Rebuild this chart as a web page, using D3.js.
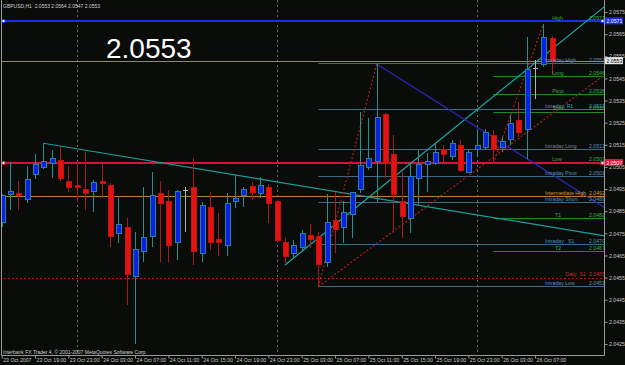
<!DOCTYPE html>
<html><head><meta charset="utf-8">
<script src="https://cdn.jsdelivr.net/npm/d3@7"></script>
<style>
html,body{margin:0;padding:0;background:#0a0c0a;}
svg{display:block;font-family:"Liberation Sans",Arial,sans-serif;}
text{white-space:pre;}
</style></head><body>
<svg id="chart" width="625" height="365"></svg>
<script>
// ---------- DATA ----------
const titleText = "GBPUSD,H1  2.0553 2.0564 2.0547 2.0553";
const bigPriceText = "2.0553";
const copyrightText = "Interbank FX Trader 4, \u00A9 2001-2007 MetaQuotes Software Corp.";

// hourly bars from 23 Oct 15:00 (index 0) to 26 Oct 09:00 (index 66)
const open  = [2.04798,2.04926,2.04928,2.04905,2.05017,2.05048,2.05066,2.05077,2.04986,2.04968,
               2.04946,2.04937,2.04986,2.04968,2.04750,2.04777,2.04557,2.04670,2.04735,2.04928,
               2.04896,2.04708,2.04946,2.04958,2.04657,2.04868,2.04720,2.04697,2.04896,2.04920,
               2.04961,2.04928,2.04958,2.04896,2.04710,2.04657,2.04687,2.04738,2.04735,2.04617,
               2.04807,2.04777,2.04837,2.04946,2.05048,2.05074,2.05285,2.05107,2.04893,2.04818,
               2.04999,2.05059,2.05066,2.05127,2.05096,2.05146,2.05026,2.05130,2.05137,2.05194,
               2.05137,2.05172,2.05258,2.05217,2.05496,2.05511,2.0563];
const high  = [2.04928,2.05074,2.04986,2.05054,2.05107,2.05157,2.05127,2.05141,2.05056,2.05066,
               2.05116,2.04991,2.05066,2.04976,2.04919,2.04818,2.04757,2.04961,2.05028,2.04986,
               2.04946,2.04946,2.04961,2.05089,2.04893,2.04938,2.04841,2.04931,2.05014,2.04961,
               2.04982,2.05006,2.04973,2.04901,2.04735,2.04720,2.04765,2.04791,2.04757,2.04928,
               2.04938,2.04896,2.04938,2.05300,2.05272,2.05515,2.05292,2.05194,2.05028,2.05074,
               2.05127,2.05114,2.05152,2.05149,2.05172,2.05172,2.05127,2.05221,2.05220,2.05217,
               2.05187,2.05285,2.05345,2.05636,2.05533,2.05696,2.0564];
const low   = [2.04779,2.04855,2.04855,2.04888,2.04994,2.05040,2.04999,2.04988,2.04938,2.04893,
               2.04855,2.04848,2.04908,2.04687,2.04708,2.04426,2.04250,2.04620,2.04687,2.04620,
               2.04620,2.04630,2.04757,2.04607,2.04620,2.04675,2.04648,2.04648,2.04866,2.04868,
               2.04901,2.04908,2.04795,2.04711,2.04615,2.04644,2.04675,2.04682,2.04509,2.04599,
               2.04660,2.04708,2.04728,2.04931,2.05036,2.04893,2.04999,2.04750,2.04728,2.04750,
               2.04878,2.04938,2.05059,2.05066,2.05081,2.05028,2.05021,2.05096,2.05127,2.05066,
               2.05119,2.05149,2.05187,2.05085,2.05357,2.05503,2.0547];
const close = [2.04919,2.04937,2.04919,2.04991,2.05059,2.05075,2.05089,2.04999,2.04958,2.04958,
               2.04928,2.04979,2.04976,2.04735,2.04788,2.04566,2.04679,2.04730,2.04919,2.04886,
               2.04694,2.04938,2.04946,2.04667,2.04878,2.04708,2.04708,2.04886,2.04908,2.04946,
               2.04935,2.04968,2.04886,2.04717,2.04644,2.04694,2.04750,2.04724,2.04607,2.04798,
               2.04768,2.04845,2.04935,2.05056,2.05089,2.05274,2.05066,2.04926,2.04828,2.05006,
               2.05062,2.05074,2.05114,2.05107,2.05154,2.05036,2.05114,2.05146,2.05206,2.05130,
               2.05167,2.05247,2.05205,2.05488,2.05496,2.05636,2.0553];

const timeTickBars   = [0,4,8,12,16,20,24,28,32,36,40,44,48,52,56,60,64];
const timeTickLabels = ["23 Oct 2007","23 Oct 19:00","23 Oct 23:00","24 Oct 03:00","24 Oct 07:00",
                        "24 Oct 11:00","24 Oct 15:00","24 Oct 19:00","24 Oct 23:00","25 Oct 03:00",
                        "25 Oct 07:00","25 Oct 11:00","25 Oct 15:00","25 Oct 19:00","25 Oct 23:00",
                        "26 Oct 03:00","26 Oct 07:00"];
const daySeparatorBars = [9,33,57];
const priceTicks = [2.0575,2.0565,2.0555,2.0545,2.0535,2.0525,2.0515,2.0505,2.0495,2.0485,
                    2.0475,2.0465,2.0455,2.0445,2.0435,2.0425];

// pivot levels
const intradayNames  = ["Intraday High","Intraday  R1","Intraday Long","Intraday Pivot","Intraday Short","Intraday   S1","Intraday Low"];
const intradayValues = [2.0552,2.0531,2.0513,2.0501,2.0489,2.0470,2.0451];
const intradayFromBar = 38;
const dailyNames  = ["     High","     Long","     Pivot","     Short","     Low","       T1","       T2"];
const dailyValues = [2.0571,2.0546,2.0538,2.0530,2.0507,2.0482,2.0467];
const dailyFromBar = 59;
const wideNames  = ["Intermediate High","              Daily  S1"];
const wideValues = [2.0492,2.0455];

// user horizontal lines with price boxes
const hLineValues = [2.0571,2.0553,2.0507];

// trend lines: [bar, price] anchors
const downTrend = [[5,2.05157],[28,2.05014]];
const upTrend   = [[34,2.04607],[63,2.05490]];
const channelLo = [[38,2.04509],[59,2.05094]];
const zigUp     = [[38,2.04509],[45,2.05515]];
const zigDown   = [[45,2.05515],[59,2.05183]];
const zigUp2    = [[59,2.05066],[65,2.05696]];

// ---------- CHART ----------
const svg = d3.select("#chart");
const PR = 604.5, PB = 355.5;
const FONT = "Liberation Sans, Arial, sans-serif";
const NARROW = "Liberation Sans Narrow, Arial Narrow, Liberation Sans, sans-serif";
svg.append("rect").attr("width",625).attr("height",365).attr("fill","#0a0c0a");

const x = d3.scaleLinear().domain([0,72]).range([1.7,601.7]);
const y = d3.scaleLinear().domain([2.0425,2.0575]).range([344,12]);

svg.append("defs").append("clipPath").attr("id","plot")
  .append("rect").attr("x",1.5).attr("y",0).attr("width",PR-1.5).attr("height",PB);

const plot = svg.append("g").attr("clip-path","url(#plot)");

// day separators
plot.selectAll(".sep").data(daySeparatorBars).join("line")
  .attr("x1",d=>Math.round(x(d))+0.5).attr("x2",d=>Math.round(x(d))+0.5)
  .attr("y1",0).attr("y2",PB)
  .attr("stroke","#6e6e6e").attr("stroke-dasharray","2,3").attr("stroke-width",1);

// level lines
function levelLine(v, fromBar, color, width, dash){
  const yy = Math.round(y(v)) + (width%2?0.5:0);
  plot.append("line").attr("x1",fromBar==null?0:x(fromBar)).attr("x2",PR)
    .attr("y1",yy).attr("y2",yy).attr("stroke",color).attr("stroke-width",width)
    .attr("stroke-dasharray",dash||null);
}
function levelLabel(name, v, color){
  const yy = y(v) - 1.2;
  svg.append("text").attr("x",545).attr("y",yy).attr("fill",color)
    .attr("font-size",5.2).text(name);
  svg.append("text").attr("x",589).attr("y",yy).attr("fill",color)
    .attr("font-size",5.2).text(d3.format(".4f")(v));
}
const cIntra="#3d6a88", cIntraT="#5b8fbf", cDaily="#1f8a22", cDailyT="#3bb03b";
intradayValues.forEach(v=>levelLine(v,intradayFromBar,cIntra,1));
dailyValues.forEach(v=>levelLine(v,dailyFromBar,cDaily,1));
levelLine(wideValues[0],null,"#b8822c",1);
levelLine(wideValues[1],null,"#b01818",1,"2,2");

// horizontal user lines
levelLine(hLineValues[1],null,"#8d8a62",1);
levelLine(hLineValues[2],null,"#d0143c",2);
levelLine(hLineValues[0],null,"#1a2cf0",2);

// trend lines (rays extend to right edge)
function ray(pts, color, dash, extend){
  const [a,b] = pts;
  const x1=x(a[0]), y1=y(a[1]), x2=x(b[0]), y2=y(b[1]);
  let xe=x2, ye=y2;
  if(extend){ xe=PR; ye=y1+(y2-y1)*(PR-x1)/(x2-x1); }
  plot.append("line").attr("x1",x1).attr("y1",y1).attr("x2",xe).attr("y2",ye)
    .attr("stroke",color).attr("stroke-width",1.2).attr("stroke-dasharray",dash||null);
}
ray(downTrend,"#1e9c9c",null,true);
ray(upTrend,"#1eaaaa",null,true);
ray(zigDown,"#2a2ab8",null,true);
ray(channelLo,"#b41c1c","2,2",true);
ray(zigUp,"#b41c1c","2,2",false);
ray(zigUp2,"#b41c1c","2,2",false);

// candles
const bars = open.map((o,i)=>({i,o,h:high[i],l:low[i],c:close[i]}));
const cg = plot.append("g").attr("shape-rendering","crispEdges");
bars.forEach(b=>{
  const cx = Math.round(x(b.i));
  const up = b.c > b.o, doji = b.c === b.o;
  const wick = doji ? "#b4b4b4" : (up ? "#2b8e8e" : "#a81c1c");
  cg.append("line").attr("x1",cx+0.5).attr("x2",cx+0.5)
    .attr("y1",y(b.h)).attr("y2",y(b.l)).attr("stroke",wick);
  const top = y(Math.max(b.o,b.c)), bot = y(Math.min(b.o,b.c));
  if(doji){
    cg.append("line").attr("x1",cx-2).attr("x2",cx+3).attr("y1",Math.round(top)+0.5).attr("y2",Math.round(top)+0.5)
      .attr("stroke","#b4b4b4");
  } else {
    cg.append("rect").attr("x",cx-2).attr("y",top).attr("width",5).attr("height",Math.max(1,bot-top))
      .attr("fill",up?"#0a22e6":"#e6120f").attr("stroke",up?"#2a7f9a":"#c01410").attr("stroke-width",1);
  }
});

// labels of levels
intradayNames.forEach((n,i)=>levelLabel(n,intradayValues[i],cIntraT));
dailyNames.forEach((n,i)=>levelLabel(n,dailyValues[i],cDailyT));
levelLabel(wideNames[0],wideValues[0],"#d49a38");
levelLabel(wideNames[1],wideValues[1],"#d42424");

// selection handles on user lines
[[hLineValues[0],"#1a2cf0"],[hLineValues[2],"#d0143c"]].forEach(([v,c])=>{
  [2,601].forEach(hx=>{
    svg.append("rect").attr("x",hx).attr("y",Math.round(y(v))-1.5).attr("width",3).attr("height",3)
      .attr("fill","#ffffff").attr("stroke",c).attr("stroke-width",1);
  });
});

// frame
svg.append("line").attr("x1",1.5).attr("x2",1.5).attr("y1",0).attr("y2",PB).attr("stroke","#9a9a9a");
svg.append("line").attr("x1",PR).attr("x2",PR).attr("y1",0).attr("y2",PB).attr("stroke","#9a9a9a");
svg.append("line").attr("x1",1.5).attr("x2",PR).attr("y1",PB).attr("y2",PB).attr("stroke","#9a9a9a");

// price axis
const yAxis = svg.append("g").attr("transform",`translate(${PR},0)`)
  .call(d3.axisRight(y).tickValues(priceTicks).tickFormat(d3.format(".4f")).tickSize(3).tickPadding(1.5));
yAxis.select(".domain").remove();
yAxis.selectAll("line").attr("stroke","#9a9a9a");
yAxis.selectAll("text").attr("fill","#c8c8c8").attr("font-size",5.2).attr("font-family",FONT);

// time axis
const xAxis = svg.append("g").attr("transform",`translate(0,${PB})`)
  .call(d3.axisBottom(x).tickValues(timeTickBars).tickFormat((d,i)=>timeTickLabels[i]).tickSize(3));
xAxis.select(".domain").remove();
xAxis.selectAll("line").attr("stroke","#9a9a9a");
xAxis.selectAll("text").attr("fill","#c8c8c8").attr("font-size",5.2)
  .attr("text-anchor","start").attr("dx",1).attr("y",3).attr("dy","0.71em")
  .attr("font-family",NARROW);

// price boxes
const boxes = [[hLineValues[0],"#1a2cf0","#ffffff"],[hLineValues[1],"#e8e8e8","#000000"],[hLineValues[2],"#e0143c","#ffffff"]];
boxes.forEach(([v,bgc,fg])=>{
  const yy = y(v);
  svg.append("rect").attr("x",PR+0.5).attr("y",yy-3.5).attr("width",18).attr("height",7).attr("fill",bgc);
  svg.append("text").attr("x",PR+2).attr("y",yy+2).attr("fill",fg).attr("font-size",5.2)
    .text(d3.format(".4f")(v));
});

// texts
svg.append("text").attr("x",3).attr("y",7.5).attr("fill","#d0d0d0").attr("font-size",5).text(titleText);
svg.append("text").attr("x",106).attr("y",58).attr("fill","#ffffff").attr("font-size",28)
  .attr("font-family",FONT).text(bigPriceText);
svg.append("text").attr("x",3).attr("y",353.5).attr("fill","#cfcfcf").attr("font-size",5).text(copyrightText);
</script>
</body></html>
